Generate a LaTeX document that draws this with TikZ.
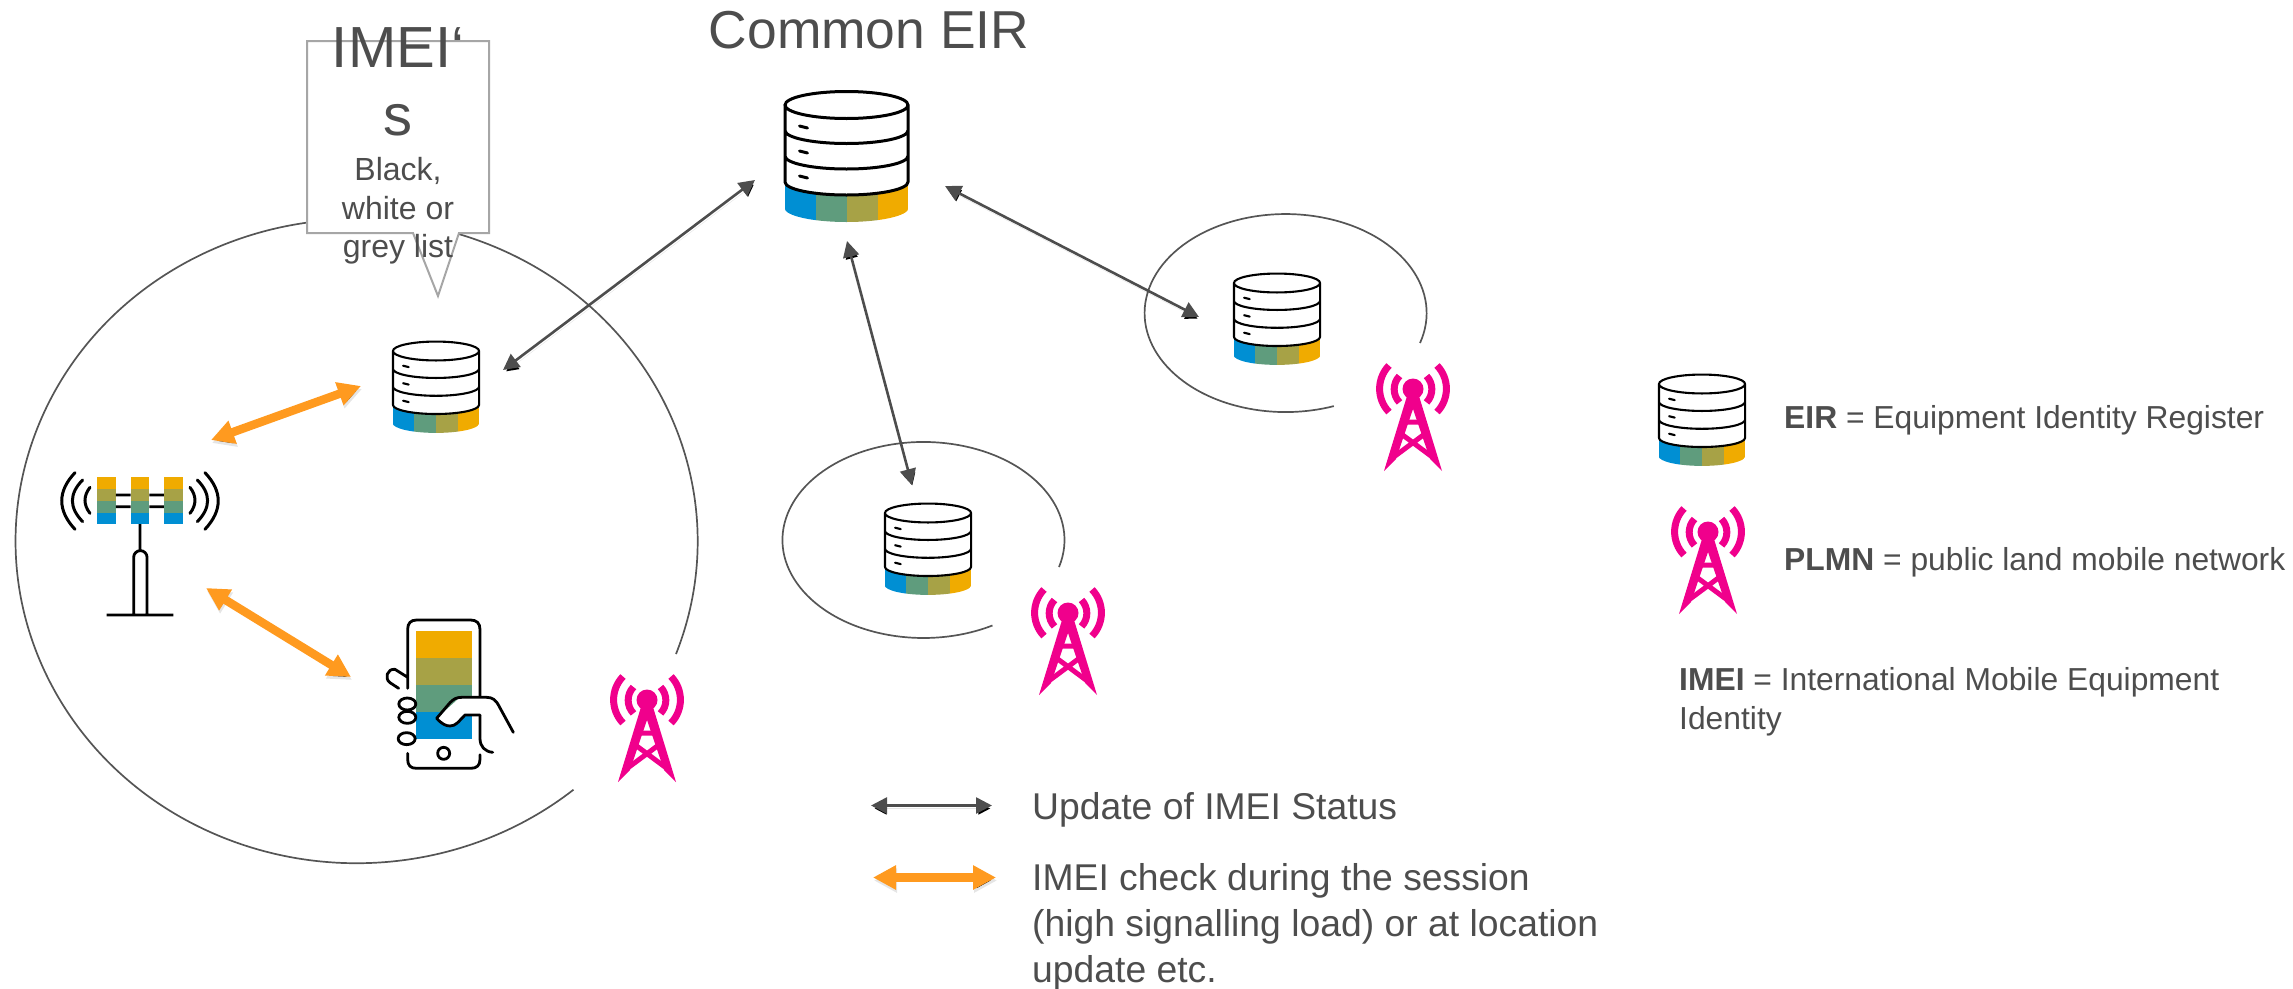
\documentclass[tikz,border=0pt]{standalone}
\usepackage{fontspec}
\setmainfont{Liberation Sans}
\usetikzlibrary{arrows.meta}
\definecolor{txt}{HTML}{4D4D4D}
\definecolor{lnk}{HTML}{4D4D4D}
\definecolor{ring}{HTML}{555555}
\definecolor{bxg}{HTML}{A6A6A6}
\definecolor{org}{HTML}{FF9A1F}
\definecolor{pink}{HTML}{F0008C}
\definecolor{cblue}{HTML}{008FD3}
\definecolor{cgreen}{HTML}{5F9C7D}
\definecolor{colive}{HTML}{A7A246}
\definecolor{cgold}{HTML}{F0AB00}
\tikzset{
  thinlink/.style={draw=lnk,line width=2.6pt,{Triangle[width=16pt,length=16pt]}-{Triangle[width=16pt,length=16pt]},
    preaction={draw=black,draw opacity=.10,transform canvas={shift={(1pt,-3pt)}}}},
  orglink/.style={draw=org,line width=8.5pt,{Triangle[width=23pt,length=23pt]}-{Triangle[width=23pt,length=23pt]},
    preaction={draw=black,draw opacity=.10,transform canvas={shift={(1pt,-3pt)}}}},
  ringline/.style={draw=ring,line width=1.7pt},
  label/.style={text=txt,inner sep=0pt},
  iconline/.style={draw=black,line width=2.8pt,line cap=round,line join=round},
}
\newcommand{\DBicon}[4]{%
  \coordinate (#1) at (#2,#3);
  \begin{scope}[shift={(#2,#3)},scale=#4]
    \begin{scope}
      \clip (-62,77) arc[start angle=180,end angle=360,x radius=62pt,y radius=13pt]
        -- (62,103) arc[start angle=0,end angle=-180,x radius=62pt,y radius=14pt] -- cycle;
      \fill[cblue] (-62,70) rectangle (-31,125);
      \fill[cgreen] (-31,70) rectangle (0,125);
      \fill[colive] (0,70) rectangle (31,125);
      \fill[cgold] (31,70) rectangle (62,125);
    \end{scope}
    \draw[draw=black,line width={#4*3pt},line cap=round]
      (0,0) ellipse[x radius=61.5pt,y radius=13.5pt]
      (-61.5,0) -- (-61.5,77)
      (61.5,0) -- (61.5,77)
      (-61.5,25.5) arc[start angle=180,end angle=360,x radius=61.5pt,y radius=13pt]
      (-61.5,51) arc[start angle=180,end angle=360,x radius=61.5pt,y radius=13pt]
      (-61.5,77) arc[start angle=180,end angle=360,x radius=61.5pt,y radius=13pt]
      (-47,21) -- (-39,23)
      (-47,46) -- (-39,48)
      (-47,71) -- (-39,73);
  \end{scope}}
\newcommand{\PinkTower}[3]{%
  \coordinate (#1) at (#2,#3);
  \begin{scope}[shift={(#2,#3)}]
    \fill[pink] (0,0) circle[radius=10.5pt];
    \fill[pink] (-6,7) -- (6,7) -- (29,82) -- (17,70) -- (0,20) -- (-17,70) -- (-29,82) -- cycle;
    \draw[pink,line width=5pt] (-11,33) -- (11,33) (-13,44) -- (18,67) (13,44) -- (-18,67);
    \draw[pink,line width=7pt] (-13.5,-13) arc[start angle=136,end angle=224,radius=19pt]
      (13.5,-13) arc[start angle=44,end angle=-44,radius=19pt]
      (-24,-23.5) arc[start angle=136,end angle=224,radius=33.5pt]
      (24,-23.5) arc[start angle=44,end angle=-44,radius=33.5pt];
  \end{scope}}
\begin{document}
\begin{tikzpicture}[x=1pt,y=-1pt]
\useasboundingbox (0,0) rectangle (2293,988);
% rings
\draw[ringline] (676,654) arc[start angle=-20.5,end angle=309.5,x radius=341pt,y radius=322pt];
\draw[ringline] (1059,567) arc[start angle=-16,end angle=299.3,x radius=141pt,y radius=98pt];
\draw[ringline] (1420,343) arc[start angle=-17.6,end angle=290,x radius=141pt,y radius=99pt];
% icons
\DBicon{dbcommon}{846.5}{105}{1}
\DBicon{dbleft}{436}{351}{.7}
\DBicon{dblower}{928}{513}{.7}
\DBicon{dbright}{1277}{283}{.7}
\DBicon{dblegend}{1702}{384}{.7}
\PinkTower{twleft}{647}{700}
\PinkTower{twlower}{1068}{613}
\PinkTower{twright}{1413}{389}
\PinkTower{twlegend}{1708}{532}
% antenna
\begin{scope}[shift={(40,450)},x=.3333pt,y=-.3333pt]
  \foreach \cx in {172,272,372}{
    \fill[cgold] (\cx,82) rectangle +(56,36);
    \fill[colive] (\cx,118) rectangle +(56,35);
    \fill[cgreen] (\cx,153) rectangle +(56,35);
    \fill[cblue] (\cx,188) rectangle +(56,34);
  }
  \draw[draw=black,line width=2.8pt]
    (228,135) -- (272,135) (328,135) -- (372,135)
    (228,170) -- (272,170) (328,170) -- (372,170)
    (300,222) -- (300,300)
    (281,495) -- (281,322) arc[start angle=180,end angle=0,radius=6.7pt] -- (321,495)
    (200,495) -- (400,495);
  \draw[draw=black,line width=3pt,line cap=round]
    (150,112) .. controls (130,138) and (130,164) .. (150,190)
    (128,90) .. controls (87,131) and (87,173) .. (128,215)
    (105,68) .. controls (52,124) and (52,181) .. (105,238)
    (450,112) .. controls (470,138) and (470,164) .. (450,190)
    (472,90) .. controls (513,131) and (513,173) .. (472,215)
    (495,68) .. controls (548,124) and (548,181) .. (495,238);
\end{scope}
% phone
\begin{scope}[shift={(370,600)},x=.3333pt,y=-.3333pt]
  \fill[cgold] (137,92) rectangle (305,173);
  \fill[colive] (137,173) rectangle (305,255);
  \fill[cgreen] (137,255) rectangle (305,337);
  \fill[cblue] (137,337) rectangle (305,418);
  \draw[iconline]
    (113,265) -- (113,88) .. controls (113,70) and (122,60) .. (140,60) -- (302,60) .. controls (320,60) and (330,70) .. (330,88) -- (330,288)
    (330,345) -- (330,415) .. controls (330,440) and (345,455) .. (368,457)
    (113,460) -- (113,478) .. controls (113,497) and (122,505) .. (140,505) -- (302,505) .. controls (320,505) and (330,497) .. (330,478) -- (330,464)
    (221,460) circle[radius=6pt]
    (112,312) ellipse[x radius=8.5pt,y radius=6pt]
    (112,352) ellipse[x radius=8.5pt,y radius=6pt]
    (110,416) ellipse[x radius=8.5pt,y radius=6pt]
    (86,265) -- (60,248) .. controls (42,235) and (52,205) .. (75,208) -- (113,232);
  \fill[white] (200,355) -- (270,292) -- (345,292) -- (345,345) -- (285,345) -- (260,372) -- (235,378) -- cycle;
  \draw[iconline]
    (430,397) -- (388,320) .. controls (378,300) and (368,292) .. (350,292) -- (275,292) .. controls (258,292) and (250,298) .. (240,308) -- (200,355)
    .. controls (215,372) and (228,378) .. (240,378) .. controls (258,378) and (265,365) .. (285,345) -- (330,345);
\end{scope}
% callout
\draw[draw=bxg,fill=white,line width=2pt,line join=miter]
  (307,41) -- (489,41) -- (489,233) -- (459,233) -- (438,296) -- (413,233) -- (307,233) -- cycle;
\node[label,anchor=base,font=\fontsize{58}{68}\selectfont] (imeititle) at (398,67) {IMEI‘};
\node[label,anchor=base,font=\fontsize{58}{68}\selectfont] (imeis) at (398,135) {s};
\node[label,anchor=base,font=\fontsize{32}{38}\selectfont] (lista) at (398,180) {Black,};
\node[label,anchor=base,font=\fontsize{32}{38}\selectfont] (listb) at (398,219) {white or};
\node[label,anchor=base,font=\fontsize{32}{38}\selectfont] (listc) at (398,257) {grey list};
\node[label,anchor=base,font=\fontsize{53.4}{64}\selectfont] (common) at (869,48) {Common EIR};
% connector ends
\coordinate (a1) at (755,180); \coordinate (a2) at (503,370);
\coordinate (b1) at (847,241); \coordinate (b2) at (912,485);
\coordinate (c1) at (945,186); \coordinate (c2) at (1199,317);
\coordinate (d1) at (211,440); \coordinate (d2) at (361,386);
\coordinate (e1) at (206,588); \coordinate (e2) at (351,677);
\coordinate (f1) at (871,805.5); \coordinate (f2) at (992,805.5);
\coordinate (g1) at (873,877.5); \coordinate (g2) at (996,877.5);
\draw[thinlink] (a1) -- (a2);
\draw[thinlink] (b1) -- (b2);
\draw[thinlink] (c1) -- (c2);
\draw[thinlink] (f1) -- (f2);
\draw[orglink] (d1) -- (d2);
\draw[orglink] (e1) -- (e2);
\draw[orglink] (g1) -- (g2);
% legend
\node[label,anchor=base west,font=\fontsize{37.3}{46}\selectfont] (upd) at (1032,819) {Update of IMEI Status};
\node[label,anchor=base west,font=\fontsize{37.3}{46}\selectfont] (chka) at (1032,890) {IMEI check during the session};
\node[label,anchor=base west,font=\fontsize{37.3}{46}\selectfont] (chkb) at (1032,936) {(high signalling load) or at location};
\node[label,anchor=base west,font=\fontsize{37.3}{46}\selectfont] (chkc) at (1032,982) {update etc.};
\node[label,anchor=base west,font=\fontsize{31.8}{38}\selectfont] (leir) at (1784,428) {\textbf{EIR} = Equipment Identity Register};
\node[label,anchor=base west,font=\fontsize{31.8}{38}\selectfont] (lplmn) at (1784,570) {\textbf{PLMN} = public land mobile network};
\node[label,anchor=base west,font=\fontsize{31.8}{38}\selectfont] (limeia) at (1679,690) {\textbf{IMEI} = International Mobile Equipment};
\node[label,anchor=base west,font=\fontsize{31.8}{38}\selectfont] (limeib) at (1679,729) {Identity};
\end{tikzpicture}
\end{document}
